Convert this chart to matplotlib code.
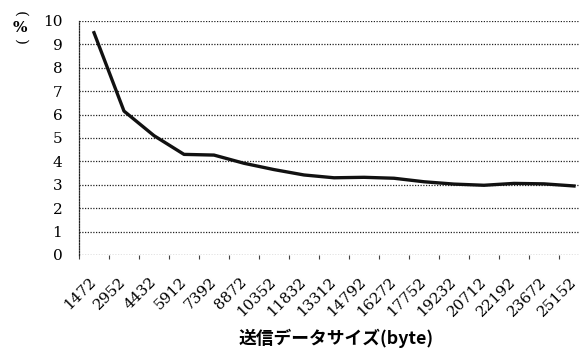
import matplotlib
matplotlib.use("Agg")
import matplotlib.pyplot as plt
import numpy as np

categories = ["1472", "2952", "4432", "5912", "7392", "8872", "10352", "11832",
              "13312", "14792", "16272", "17752", "19232", "20712", "22192",
              "23672", "25152"]
values = [9.5, 6.15, 5.1, 4.3, 4.27, 3.92, 3.65, 3.42, 3.3, 3.32, 3.28,
          3.13, 3.03, 2.98, 3.06, 3.04, 2.95]
yticks = list(range(0, 11))
xlabel = "送信データサイズ(byte)"

fig = plt.figure(figsize=(5.79, 3.56), dpi=100)
ax = fig.add_axes([79/579, 101/356, 510/579, 234/356])

x = np.arange(len(categories))
ax.plot(x, values, color="#111111", lw=2.4, solid_joinstyle="round")

ax.set_xlim(-0.5, len(categories) - 0.5)
ax.set_ylim(0, 10)

dot = (0, (1, 1.2))
for v in yticks:
    ax.axhline(v, color="#222222", lw=0.9, ls=dot, zorder=0)

for s in ["top", "right", "bottom"]:
    ax.spines[s].set_visible(False)
ax.spines["left"].set_linestyle(dot)
ax.spines["left"].set_linewidth(0.9)
ax.spines["left"].set_color("#222222")

serif = "DejaVu Serif"
ax.set_yticks(yticks)
ax.set_yticklabels([str(v) for v in yticks], fontfamily=serif, fontsize=11)
ax.tick_params(axis="y", length=0, pad=12)

ax.set_xticks(x)
ax.set_xticklabels(categories, rotation=45, ha="right", va="center",
                   rotation_mode="anchor", fontfamily=serif, fontsize=11)
ax.tick_params(axis="x", which="major", length=0, pad=18)
ax.set_xticks(np.arange(-0.5, len(categories), 1), minor=True)
ax.tick_params(axis="x", which="minor", length=3, width=0.8, color="#444444")

fig.text(336/579, 1 - 338/356, xlabel, ha="center", va="center",
         fontfamily=["Noto Sans CJK JP", "DejaVu Sans"], fontweight="bold",
         fontsize=12.8)

# vertical-style unit label "(%)": rotated parentheses around an upright %
fig.text(20/579, 1 - 14/356, "(", rotation=-90, rotation_mode="anchor",
         ha="center", va="center", fontfamily=serif, fontsize=11)
fig.text(20/579, 1 - 28/356, "%", ha="center", va="center",
         fontfamily=serif, fontweight="bold", fontsize=11)
fig.text(20/579, 1 - 42/356, ")", rotation=-90, rotation_mode="anchor",
         ha="center", va="center", fontfamily=serif, fontsize=11)

fig.savefig("out.png", dpi=100)
